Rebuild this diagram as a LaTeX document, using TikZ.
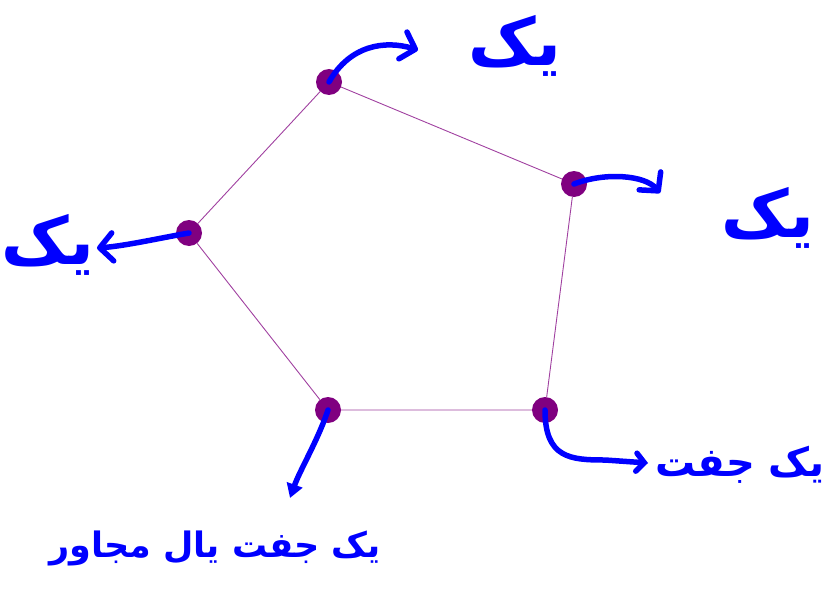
\documentclass[tikz,border=0pt]{standalone}
\usepackage{fontspec}
\usetikzlibrary{arrows.meta}
\TeXXeTstate=1
\newfontfamily\arabicfont[Script=Arabic]{DejaVu Sans}
\definecolor{vtx}{HTML}{800080}
\definecolor{edg}{HTML}{A040A0}
\definecolor{ink}{HTML}{0000FF}
\begin{document}
\begin{tikzpicture}[x=1pt,y=-1pt,
  vertex/.style={circle,fill=vtx,inner sep=0pt,minimum size=26pt},
  edgeline/.style={draw=edg,line width=0.9pt},
  pen/.style={draw=ink,line width=5.5pt,line cap=round,line join=round,
    -{Straight Barb[length=13pt,width=28pt,line cap=round,line join=round]}},
  script/.style={text=ink,font=\arabicfont\bfseries,inner sep=0pt}]
\useasboundingbox (0,0) rectangle (827,610);
% vertices
\node[vertex] (A) at (329,82) {};
\node[vertex] (B) at (574,184) {};
\node[vertex] (C) at (545,410) {};
\node[vertex] (D) at (328,410) {};
\node[vertex] (E) at (189,233) {};
% edges
\draw[edgeline] (A) -- (B) -- (C) -- (D) -- (E) -- (A);
% arrow end points
\coordinate (a1) at (418,50);
\coordinate (b1) at (660,193);
\coordinate (e1) at (97,248);
\coordinate (c1) at (648,463);
\coordinate (d1) at (290,498);
% hand-drawn arrows
\draw[pen] (A.center) .. controls (350,45) and (385,40) .. (a1);
\draw[pen] (B.center) .. controls (605,172) and (645,175) .. (b1);
\draw[pen] (E.center) .. controls (160,238) and (125,246) .. (e1);
\draw[pen,-{Straight Barb[length=8pt,width=18pt,line cap=round]}] (C.center) .. controls (545,458) and (570,460) .. (605,460) -- (c1);
\draw[pen,-{Triangle[length=14pt,width=16pt]}] (D.center) .. controls (318,440) and (300,470) .. (d1);
% labels
\node[script,font=\arabicfont\bfseries\fontsize{66}{72}\selectfont] (t1) at (515,46) {\beginR یک\endR};
\node[script,font=\arabicfont\bfseries\fontsize{66}{72}\selectfont] (t2) at (768,218) {\beginR یک\endR};
\node[script,font=\arabicfont\bfseries\fontsize{66}{72}\selectfont] (t3) at (48,245) {\beginR یک\endR};
\node[script,font=\arabicfont\bfseries\fontsize{40}{46}\selectfont] (t4) at (740,465) {\beginR یک جفت\endR};
\node[script,font=\arabicfont\bfseries\fontsize{35}{42}\selectfont] (t5) at (215,548) {\beginR یک جفت یال مجاور\endR};
\end{tikzpicture}
\end{document}
